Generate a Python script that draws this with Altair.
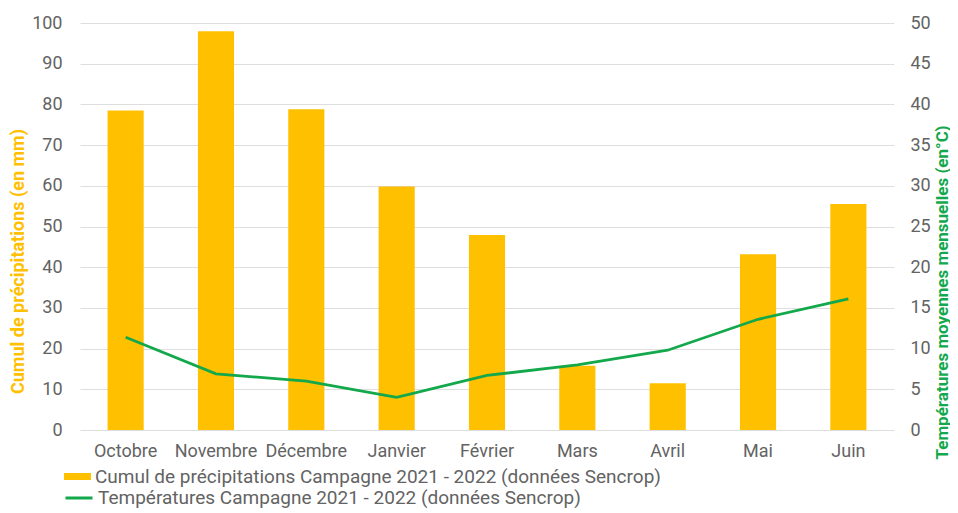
import altair as alt
import pandas as pd

mois = ["Octobre", "Novembre", "Décembre", "Janvier", "Février", "Mars", "Avril", "Mai", "Juin"]
precipitations = [78.5, 98.0, 78.8, 59.8, 47.9, 15.8, 11.5, 43.2, 55.5]
temperatures = [11.4, 6.9, 6.0, 4.0, 6.7, 8.0, 9.8, 13.6, 16.1]

serie_pluie = "Cumul de précipitations Campagne 2021 - 2022 (données Sencrop)"
serie_temp = "Températures Campagne 2021 - 2022 (données Sencrop)"

df = pd.DataFrame({
    "mois": mois,
    "pluie": precipitations,
    "temp": temperatures,
    "s_pluie": [serie_pluie] * len(mois),
    "s_temp": [serie_temp] * len(mois),
})

FONT = "Roboto"
GRAY = "#636363"
YELLOW = "#FFC000"
GREEN = "#12A84B"

x_enc = alt.X(
    "mois:N", sort=mois, title=None,
    scale=alt.Scale(paddingInner=0.6, paddingOuter=0.305),
    axis=alt.Axis(labelAngle=0, labelFontSize=18, labelColor=GRAY, labelFont=FONT,
                  ticks=False, tickSize=0, domain=False, labelPadding=12),
)

bars = alt.Chart(df).mark_bar(color=YELLOW).encode(
    x=x_enc,
    y=alt.Y(
        "pluie:Q", scale=alt.Scale(domain=[0, 100]),
        axis=alt.Axis(
            title="Cumul de précipitations (en mm)", values=list(range(0, 101, 10)),
            titleColor=YELLOW, titleFont=FONT, titleFontSize=18, titleFontWeight="bold",
            titleAngle=270, titleX=-62, titleY=238, titleAlign="center", titleBaseline="middle",
            labelFontSize=18, labelColor=GRAY, labelFont=FONT, labelPadding=18,
            ticks=False, tickSize=0, domain=False, grid=True, gridColor="#dedede", gridWidth=1,
        ),
    ),
    color=alt.Color(
        "s_pluie:N", scale=alt.Scale(domain=[serie_pluie], range=[YELLOW]),
        legend=alt.Legend(
            title=None, orient="none", legendX=-16, legendY=440, padding=0,
            symbolType="M-1,-0.26H1V0.26H-1Z", symbolSize=729, symbolStrokeWidth=0,
            labelFontSize=19, labelColor=GRAY, labelFont=FONT, labelOffset=4, labelLimit=800,
        ),
    ),
)

line = alt.Chart(df).mark_line(strokeWidth=2.8).encode(
    x=x_enc,
    y=alt.Y(
        "temp:Q", scale=alt.Scale(domain=[0, 50]),
        axis=alt.Axis(
            orient="right", title="Températures moyennes mensuelles (en°C)",
            values=list(range(0, 51, 5)),
            titleColor=GREEN, titleFont=FONT, titleFontSize=17, titleFontWeight="bold",
            titleAngle=270, titleX=48, titleY=269, titleAlign="center", titleBaseline="middle",
            labelFontSize=18, labelColor=GRAY, labelFont=FONT, labelPadding=16,
            ticks=False, tickSize=0, domain=False, grid=False,
        ),
    ),
    stroke=alt.Stroke(
        "s_temp:N", scale=alt.Scale(domain=[serie_temp], range=[GREEN]),
        legend=alt.Legend(
            title=None, orient="none", legendX=-16, legendY=460, padding=0,
            symbolType="stroke", symbolSize=729, symbolStrokeWidth=3,
            labelFontSize=19, labelColor=GRAY, labelFont=FONT, labelOffset=4, labelLimit=800,
        ),
    ),
)

chart = alt.layer(bars, line).resolve_scale(y="independent", color="independent").properties(
    width=814, height=407,
    autosize=alt.AutoSizeParams(type="none"),
    padding={"left": 72, "top": 15, "right": 56, "bottom": 80},
).configure(
    font=FONT, background="white", view=alt.ViewConfig(stroke=None)
)

chart.save("out.html", embed_options={"renderer": "svg", "actions": False})
